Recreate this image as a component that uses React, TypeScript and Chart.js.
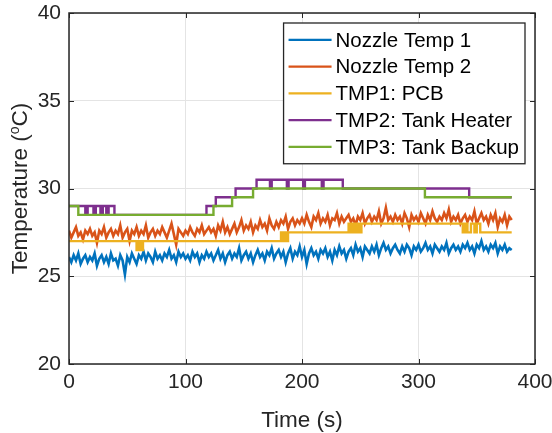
import React, { useEffect, useRef } from 'react';
import { Chart, registerables } from 'chart.js';

Chart.register(...registerables);

// ---- data ----
const SAMPLE_INTERVAL = 2; // seconds between nozzle samples

const nozzleTemp1 = [
  26.1, 25.8, 26.2, 25.9, 26.3, 25.7, 26.0, 26.2, 25.8, 26.1,
  25.9, 26.3, 25.6, 26.0, 26.2, 25.8, 26.1, 25.7, 26.3, 25.9,
  26.0, 25.6, 26.2, 25.9, 25.1, 26.1, 25.8, 26.3, 26.0, 25.7,
  26.2, 26.0, 26.4, 25.9, 26.3, 26.1, 25.8, 26.4, 26.0, 26.2,
  25.9, 26.3, 26.1, 26.5, 26.0, 26.2, 25.8, 26.4, 26.1, 26.3,
  26.0, 26.2, 25.9, 26.4, 26.1, 26.3, 25.8, 26.2, 26.0, 26.4,
  26.1, 26.3, 25.9, 26.2, 26.5, 26.0, 26.3, 25.8, 26.2, 26.4,
  26.0, 26.3, 26.1, 26.6, 25.9, 26.2, 26.4, 26.0, 26.3, 25.8,
  26.2, 26.5, 26.1, 26.3, 25.9, 26.4, 26.2, 26.6, 26.0, 26.3,
  26.5, 26.1, 26.4, 25.8, 26.3, 26.6, 26.0, 26.4, 26.2, 26.7,
  26.1, 26.5, 25.7, 26.3, 26.6, 26.2, 26.4, 26.0, 26.5, 26.3,
  26.6, 26.1, 26.4, 25.9, 26.5, 26.2, 26.7, 26.3, 26.5, 26.0,
  26.4, 26.6, 26.2, 26.8, 26.4, 26.6, 26.1, 26.7, 26.5, 26.3,
  26.7, 26.4, 26.8, 26.2, 26.6, 26.9, 26.5, 26.7, 26.3, 26.6,
  26.8, 26.5, 26.3, 26.7, 26.4, 26.8, 26.6, 26.2, 26.7, 26.5,
  26.8, 26.4, 26.6, 26.9, 26.5, 26.7, 26.3, 26.8, 26.6, 26.4,
  26.7, 26.5, 26.9, 26.3, 26.6, 26.8, 26.5, 26.7, 26.4, 26.8,
  26.6, 26.9, 26.5, 26.7, 26.3, 26.8, 26.6, 27.0, 26.5, 26.7,
  26.4, 26.8, 26.6, 26.9, 26.3, 26.7, 26.5, 26.8, 26.4, 26.6,
  26.5,
];

const nozzleTemp2 = [
  27.6, 27.2, 27.5, 27.8, 27.3, 27.5, 27.1, 27.6, 27.4, 27.7,
  27.3, 27.5, 26.9, 27.6, 27.4, 27.8, 27.2, 27.5, 27.7, 27.3,
  27.6, 27.4, 27.9, 27.2, 27.5, 27.7, 27.0, 27.6, 27.4, 27.8,
  27.3, 27.6, 27.4, 27.9, 27.2, 27.5, 27.7, 27.3, 27.6, 27.4,
  27.8, 27.5, 27.2, 27.6, 28.0, 27.4, 26.8, 27.7, 27.5, 27.3,
  27.6, 27.4, 27.8, 27.5, 27.3, 27.7, 27.5, 27.9, 27.4, 27.6,
  27.8, 27.5, 27.7, 27.3, 27.9, 27.6, 28.1, 27.5, 27.8, 27.4,
  27.7, 28.0, 27.5, 27.8, 28.2, 27.6, 27.9, 27.7, 28.1, 27.5,
  27.9, 27.7, 28.2, 27.8, 28.0, 27.6, 28.3, 27.9, 27.7, 28.1,
  27.8, 28.2, 28.0, 28.4, 27.7, 28.1, 28.3, 27.9, 28.2, 28.0,
  28.3, 28.0, 28.5, 28.1, 27.8, 28.4, 28.2, 28.6, 28.0, 28.3,
  28.1, 28.5, 27.9, 28.3, 28.2, 28.6, 28.0, 28.4, 28.1, 28.3,
  28.5, 28.1, 28.3, 27.9, 28.4, 28.2, 28.6, 28.0, 28.3, 28.5,
  28.1, 28.4, 28.2, 28.7, 28.0, 28.3, 28.9, 28.2, 28.4, 28.1,
  28.5, 28.2, 28.4, 28.0, 28.6, 28.3, 27.8, 28.5, 28.2, 28.4,
  28.1, 28.6, 28.3, 28.0, 28.5, 28.2, 28.7, 28.3, 28.1, 28.4,
  28.2, 28.6, 28.3, 28.8, 28.1, 28.4, 28.2, 28.5, 28.0, 28.3,
  28.5, 28.1, 28.4, 28.2, 28.7, 28.0, 28.3, 28.6, 28.2, 28.4,
  28.0, 28.5, 28.2, 28.6, 27.8, 28.3, 28.1, 28.5, 27.9, 28.4,
  28.2,
];

// step sensors: times (s) where the reading changes, and the new reading
const tmp1Times = [0, 58, 59, 60, 61.5, 62.5, 63.5, 182, 183.5, 185, 186.5, 188, 240, 242, 244, 246, 248, 250, 251, 338, 340, 342, 345, 348, 350, 353, 380];
const tmp1Values = [27, 26.5, 27, 26.5, 27, 26.5, 27, 27.5, 27, 27.5, 27, 27.5, 28, 27.5, 28, 27.5, 28, 27.5, 28, 27.5, 28, 27.5, 28, 27.5, 28, 27.5, 27.5];

const tmp2Times = [0, 14, 16, 21, 23, 27, 29, 32, 34, 39, 118, 126, 143, 161, 172.5, 174, 187, 188.5, 201, 202.5, 217, 218.5, 235, 343.5, 380];
const tmp2Values = [29, 28.5, 29, 28.5, 29, 28.5, 29, 28.5, 29, 28.5, 29, 29.5, 30, 30.5, 30, 30.5, 30, 30.5, 30, 30.5, 30, 30.5, 30, 29.5, 29.5];

const tmp3Times = [0, 8, 124, 140, 158, 305.5, 380];
const tmp3Values = [29, 28.5, 29, 29.5, 30, 29.5, 29.5];

const seriesNames = ['Nozzle Temp 1', 'Nozzle Temp 2', 'TMP1: PCB', 'TMP2: Tank Heater', 'TMP3: Tank Backup'];
const seriesColors = ['#0072BD', '#D95319', '#EDB120', '#7E2F8E', '#77AC30'];

const xTicks = [0, 100, 200, 300, 400];
const yTicks = [20, 25, 30, 35, 40];
const xTitle = 'Time (s)';
const yTitleParts = ['Temperature (', 'o', 'C)'];

// ---- styling ----
const FONT = '"Liberation Sans", Arial, Helvetica, sans-serif';
const AXIS_COLOR = '#262626';
const GRID_COLOR = '#e4e4e4';

const sampled = (vals: number[]) => vals.map((y, i) => ({ x: i * SAMPLE_INTERVAL, y }));
const stepped = (ts: number[], vs: number[]) => ts.map((x, i) => ({ x, y: vs[i] }));

const decorPlugin = {
  id: 'matlabDecor',
  afterDatasetsDraw(chart: any) {
    const { ctx, chartArea: a, scales } = chart;
    ctx.save();
    // inward tick marks on all four sides
    ctx.strokeStyle = AXIS_COLOR;
    ctx.lineWidth = 1;
    const tl = 5;
    ctx.beginPath();
    for (const v of xTicks) {
      const px = Math.round(scales.x.getPixelForValue(v)) + 0.5;
      ctx.moveTo(px, a.bottom);
      ctx.lineTo(px, a.bottom - tl);
      ctx.moveTo(px, a.top);
      ctx.lineTo(px, a.top + tl);
    }
    for (const v of yTicks) {
      const py = Math.round(scales.y.getPixelForValue(v)) + 0.5;
      ctx.moveTo(a.left, py);
      ctx.lineTo(a.left + tl, py);
      ctx.moveTo(a.right, py);
      ctx.lineTo(a.right - tl, py);
    }
    ctx.stroke();
    // axes box
    ctx.lineWidth = 1.5;
    ctx.strokeRect(a.left, a.top, a.right - a.left, a.bottom - a.top);

    // legend (northeast, boxed)
    const fontPx = 20.5;
    ctx.font = `${fontPx}px ${FONT}`;
    const maxW = Math.max(...seriesNames.map((s) => ctx.measureText(s).width));
    const rowH = 26.75;
    const lineLen = 43;
    const padL = 5;
    const gap = 4;
    const boxW = padL + lineLen + gap + maxW + 6;
    const boxH = rowH * seriesNames.length + 7;
    const bx = a.right - 10 - boxW;
    const by = a.top + 10;
    ctx.fillStyle = '#ffffff';
    ctx.fillRect(bx, by, boxW, boxH);
    ctx.lineWidth = 1.3;
    ctx.strokeStyle = AXIS_COLOR;
    ctx.strokeRect(bx, by, boxW, boxH);
    ctx.textBaseline = 'middle';
    ctx.textAlign = 'left';
    seriesNames.forEach((name, i) => {
      const cy = by + 3.5 + rowH * (i + 0.5);
      ctx.strokeStyle = seriesColors[i];
      ctx.lineWidth = 2.2;
      ctx.beginPath();
      ctx.moveTo(bx + padL, cy);
      ctx.lineTo(bx + padL + lineLen, cy);
      ctx.stroke();
      ctx.fillStyle = '#000000';
      ctx.fillText(name, bx + padL + lineLen + gap, cy + 1);
    });
    ctx.restore();
  },
  afterDraw(chart: any) {
    const { ctx, chartArea: a } = chart;
    ctx.save();
    ctx.fillStyle = AXIS_COLOR;
    ctx.textBaseline = 'alphabetic';
    // x title
    ctx.font = `22.5px ${FONT}`;
    ctx.textAlign = 'center';
    ctx.fillText(xTitle, (a.left + a.right) / 2, 427);
    // y title with superscript o
    const big = `22.5px ${FONT}`;
    const small = `14px ${FONT}`;
    ctx.font = big;
    const w1 = ctx.measureText(yTitleParts[0]).width;
    const w3 = ctx.measureText(yTitleParts[2]).width;
    ctx.font = small;
    const w2 = ctx.measureText(yTitleParts[1]).width;
    const total = w1 + w2 + w3;
    ctx.translate(27, (a.top + a.bottom) / 2);
    ctx.rotate(-Math.PI / 2);
    ctx.textAlign = 'left';
    let x = -total / 2;
    ctx.font = big;
    ctx.fillText(yTitleParts[0], x, 0);
    x += w1;
    ctx.font = small;
    ctx.fillText(yTitleParts[1], x, -8);
    x += w2;
    ctx.font = big;
    ctx.fillText(yTitleParts[2], x, 0);
    ctx.restore();
  },
};

export default function App() {
  const canvasRef = useRef<HTMLCanvasElement | null>(null);

  useEffect(() => {
    document.body.style.margin = '0';
    const canvas = canvasRef.current;
    if (!canvas) return;
    const common = { pointRadius: 0, pointHoverRadius: 0, fill: false, tension: 0 };
    const chart = new Chart(canvas, {
      type: 'line',
      data: {
        datasets: [
          { ...common, label: seriesNames[0], data: sampled(nozzleTemp1), borderColor: seriesColors[0], borderWidth: 2.6, order: 5 },
          { ...common, label: seriesNames[1], data: sampled(nozzleTemp2), borderColor: seriesColors[1], borderWidth: 2.6, order: 4 },
          { ...common, label: seriesNames[2], data: stepped(tmp1Times, tmp1Values), borderColor: seriesColors[2], borderWidth: 2.4, stepped: true, order: 3 },
          { ...common, label: seriesNames[3], data: stepped(tmp2Times, tmp2Values), borderColor: seriesColors[3], borderWidth: 2.4, stepped: true, order: 2 },
          { ...common, label: seriesNames[4], data: stepped(tmp3Times, tmp3Values), borderColor: seriesColors[4], borderWidth: 2.4, stepped: true, order: 1 },
        ],
      },
      options: {
        responsive: false,
        animation: false,
        events: [],
        layout: { padding: { top: 13, right: 17, left: 0, bottom: 0 } },
        plugins: { legend: { display: false }, tooltip: { enabled: false } },
        scales: {
          x: {
            type: 'linear',
            min: 0,
            max: 400,
            ticks: { stepSize: 100, maxRotation: 0, color: AXIS_COLOR, font: { family: FONT, size: 21 }, padding: 6 },
            grid: { color: GRID_COLOR, drawTicks: false, lineWidth: 1 },
            border: { display: false },
            afterFit: (s: any) => { s.height = 69; s.paddingLeft = 0; s.paddingRight = 0; },
          },
          y: {
            type: 'linear',
            min: 20,
            max: 40,
            ticks: { stepSize: 5, color: AXIS_COLOR, font: { family: FONT, size: 21 }, padding: 8 },
            grid: { color: GRID_COLOR, drawTicks: false, lineWidth: 1 },
            border: { display: false },
            afterFit: (s: any) => { s.width = 69; s.paddingTop = 0; s.paddingBottom = 0; },
          },
        },
      },
      plugins: [decorPlugin],
    } as any);
    return () => chart.destroy();
  }, []);

  return (
    <div style={{ width: 552, height: 433, background: '#ffffff' }}>
      <canvas ref={canvasRef} width={552} height={433} style={{ display: 'block' }} />
    </div>
  );
}
